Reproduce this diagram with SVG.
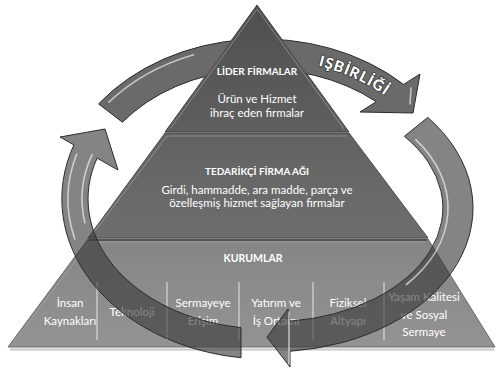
<svg xmlns="http://www.w3.org/2000/svg" width="496" height="369" viewBox="0 0 496 369">
<defs>
<style>
.t{font-family:Lato,"Open Sans","Liberation Sans",sans-serif;fill:#ffffff;font-size:11.5px;text-anchor:middle}
.b{font-weight:bold;font-size:10px}
.arrow{stroke:#2c2c2c;stroke-width:1;stroke-linejoin:round}
.solid{fill:#6a6a6a}
.glass{fill:#383838;fill-opacity:0.62}
.hl{fill:none;stroke:#ffffff;stroke-opacity:0.6;stroke-width:1.6;stroke-linecap:round}
.col{stroke:#e6e6e6;stroke-width:1}
.bevel{fill:none;stroke:#a8a8a8;stroke-opacity:0.6;stroke-width:1}
.label{font-family:Lato,"Open Sans","Liberation Sans",sans-serif;font-weight:900;font-size:15px;fill:#ffffff;stroke:#333333;stroke-width:1.6;paint-order:stroke;letter-spacing:1px}
</style>
<linearGradient id="gTop" x1="0" y1="0" x2="0" y2="1"><stop offset="0" stop-color="#4f4f4f"/><stop offset="1" stop-color="#5f5f5f"/></linearGradient>
<linearGradient id="gMid" x1="0" y1="0" x2="0" y2="1"><stop offset="0" stop-color="#626262"/><stop offset="1" stop-color="#6e6e6e"/></linearGradient>
<linearGradient id="gBot" x1="0" y1="0" x2="0" y2="1"><stop offset="0" stop-color="#858585"/><stop offset="1" stop-color="#939393"/></linearGradient>
<clipPath id="notTop"><path clip-rule="evenodd" d="M0 0H496V369H0Z M257 5 L165 132 L349 132 Z"/></clipPath>
<path id="labelPath" d="M294.3 61.2 A186 146 0 0 1 404.5 111.2"/>
</defs>
<rect width="496" height="369" fill="#ffffff"/>

<g id="pyramid-shadow"><line x1="10" y1="349.5" x2="494" y2="349.5" stroke="#c8c8c8" stroke-width="2"/></g>

<g id="tier-bottom">
<polygon points="88,239 428,239 495,347 8,347" fill="url(#gBot)" stroke="#6a6a6a" stroke-width="1"/>
<polyline class="bevel" points="12,344 90,242 426,242"/>
<line x1="89" y1="240" x2="427" y2="240" stroke="#555555" stroke-width="2"/>
<text class="t b" x="253" y="262" style="font-size:10.5px">KURUMLAR</text>
<line class="col" x1="97" y1="282" x2="97" y2="340"/>
<line class="col" x1="167" y1="282" x2="167" y2="340"/>
<line class="col" x1="239" y1="282" x2="239" y2="340"/>
<line class="col" x1="313" y1="282" x2="313" y2="340"/>
<line class="col" x1="384" y1="282" x2="384" y2="340"/>
<text class="t" x="70" y="307">İnsan</text>
<text class="t" x="70" y="325">Kaynakları</text>
<text class="t" x="132" y="316">Teknoloji</text>
<text class="t" x="203" y="307">Sermayeye</text>
<text class="t" x="203" y="325">Erişim</text>
<text class="t" x="276" y="307">Yatırım ve</text>
<text class="t" x="276" y="325">İş Ortamı</text>
<text class="t" x="348" y="307">Fiziksel</text>
<text class="t" x="348" y="325">Altyapı</text>
<text class="t" x="424" y="301">Yaşam Kalitesi</text>
<text class="t" x="424" y="319">ve Sosyal</text>
<text class="t" x="424" y="336">Sermaye</text>
</g>

<g id="tier-middle">
<polygon points="165,133 349,133 428,238 88,238" fill="url(#gMid)" stroke="#4c4c4c" stroke-width="1"/>
<polyline class="bevel" points="92,235 167,136 347,136"/>
<text class="t b" x="257" y="175">TEDARİKÇİ FİRMA AĞI</text>
<text class="t" x="257" y="194">Girdi, hammadde, ara madde, parça ve</text>
<text class="t" x="257" y="207">özelleşmiş hizmet sağlayan firmalar</text>
</g>

<g id="tier-top">
<polygon points="257,5 165,132 349,132" fill="url(#gTop)" stroke="#444444" stroke-width="1"/>
<polyline class="bevel" points="170,129 257,9 344,129"/>
<text class="t b" x="257" y="75">LİDER FİRMALAR</text>
<text class="t" x="257" y="103">Ürün ve Hizmet</text>
<text class="t" x="257" y="116.5">ihraç eden firmalar</text>
</g>

<g id="connectors">
<g id="arrow-top" clip-path="url(#notTop)">
<path class="arrow solid" d="M98.6 103.9 A206 166 0 0 1 403.6 84.4 L420 74 L413 113 L360 112 L376.2 101.7 A176 136 0 0 0 122.4 122.2 Z"/>
<path class="hl" d="M108.8 102.2 A200 160 0 0 1 193.6 54.7"/>
<path class="hl" d="M411 88 L410 104"/>
<text class="label"><textPath href="#labelPath" startOffset="50%" text-anchor="middle">IŞBİRLİĞİ</textPath></text>
</g>
<g id="arrow-right">
<path class="arrow glass" d="M427.8 117.4 A203 144 0 0 1 290 351.3 L290 367 L267 337 L288 309 L290 321.2 A173 114 0 0 0 404.4 136.3 Z"/>
<path class="hl" d="M415.8 139.7 A178 119 0 0 1 406.4 284.5" stroke-opacity="0.45"/>
<path class="hl" d="M289 312 L289 364" stroke-opacity="0.45"/>
</g>
<g id="arrow-left">
<path class="arrow glass" d="M241 357.7 A205 160 0 0 1 73.9 144.9 L60 137 L105 129 L118 170 L97.1 158.1 A179 130 0 0 0 241 327.6 Z"/>
<path class="hl" d="M76.7 154 A199 154 0 0 0 74.8 238.9"/>
<path class="hl" d="M92.1 154.7 A185 136 0 0 0 84.8 222.6"/>
</g>
</g>
</svg>
